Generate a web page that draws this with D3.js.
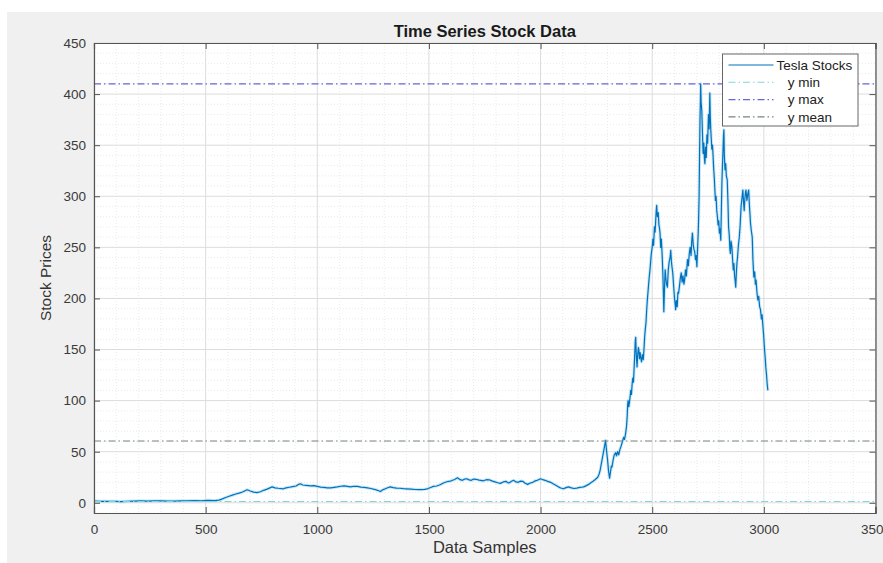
<!DOCTYPE html>
<html>
<head>
<meta charset="utf-8">
<script src="https://cdn.jsdelivr.net/npm/d3@7"></script>
<style>
  body { margin: 0; background: #ffffff; }
  svg { display: block; font-family: "Liberation Sans", Arial, Helvetica, sans-serif; }
</style>
</head>
<body>
<svg id="chart" width="883" height="563"></svg>
<script>
// Sample index of each observation and its closing price (same order, 10 per row)
const samples = [
  0, 30, 60, 90, 120, 150, 180, 210, 240, 270,
  300, 330, 360, 390, 420, 450, 480, 510, 540, 560,
  575, 590, 605, 620, 635, 650, 665, 686, 700, 715,
  730, 745, 760, 775, 790, 798, 810, 825, 848, 860,
  875, 890, 905, 915, 924, 935, 950, 970, 985, 1000,
  1015, 1030, 1045, 1060, 1075, 1090, 1105, 1120, 1135, 1148,
  1165, 1180, 1195, 1210, 1225, 1240, 1255, 1270, 1283, 1292,
  1305, 1318, 1327, 1340, 1355, 1370, 1385, 1400, 1420, 1440,
  1460, 1480, 1493, 1508, 1520, 1535, 1550, 1565, 1580, 1600,
  1615, 1628, 1640, 1650, 1660, 1670, 1680, 1690, 1700, 1710,
  1725, 1744, 1757, 1770, 1782, 1795, 1808, 1820, 1833, 1845,
  1852, 1860, 1870, 1879, 1890, 1900, 1910, 1920, 1931, 1942,
  1954, 1965, 1975, 1985, 1993, 2000, 2010, 2020, 2032, 2045,
  2058, 2070, 2080, 2090, 2103, 2114, 2125, 2138, 2150, 2162,
  2175, 2184, 2193, 2205, 2215, 2225, 2235, 2245, 2256, 2262,
  2267, 2272, 2277, 2282, 2287, 2291, 2295, 2300, 2304, 2309,
  2313, 2317, 2320, 2325, 2330, 2336, 2340, 2345, 2350, 2355,
  2360, 2364, 2368, 2372, 2376, 2381, 2385, 2388, 2390, 2392,
  2395, 2398, 2401, 2404, 2407, 2410, 2413, 2416, 2419, 2422,
  2424, 2426, 2428, 2430, 2432, 2435, 2438, 2440, 2443, 2446,
  2448, 2452, 2456, 2460, 2463, 2466, 2469, 2472, 2475, 2478,
  2481, 2484, 2487, 2490, 2493, 2496, 2500, 2503, 2506, 2510,
  2513, 2516, 2518, 2520, 2523, 2527, 2530, 2533, 2535, 2538,
  2541, 2545, 2548, 2550, 2552, 2555, 2558, 2561, 2564, 2568,
  2572, 2576, 2580, 2583, 2586, 2589, 2592, 2596, 2600, 2603,
  2605, 2608, 2612, 2615, 2618, 2622, 2626, 2630, 2634, 2638,
  2642, 2645, 2649, 2653, 2658, 2662, 2666, 2670, 2674, 2677,
  2680, 2684, 2687, 2690, 2694, 2697, 2700, 2703, 2706, 2708,
  2710, 2712, 2714, 2716, 2717, 2719, 2722, 2725, 2728, 2731,
  2734, 2736, 2739, 2742, 2745, 2748, 2752, 2755, 2758, 2760,
  2762, 2764, 2767, 2770, 2772, 2775, 2778, 2780, 2783, 2786,
  2789, 2792, 2795, 2798, 2801, 2804, 2807, 2810, 2812, 2814,
  2817, 2819, 2821, 2823, 2826, 2829, 2832, 2836, 2839, 2842,
  2845, 2848, 2850, 2853, 2857, 2860, 2863, 2866, 2869, 2872,
  2874, 2877, 2880, 2882, 2886, 2890, 2894, 2898, 2902, 2906,
  2909, 2912, 2915, 2918, 2920, 2924, 2928, 2932, 2935, 2938,
  2940, 2944, 2948, 2951, 2955, 2959, 2962, 2965, 2969, 2973,
  2977, 2981, 2985, 2989, 2992, 2995, 2999, 3003, 3006, 3009,
  3012, 3015, 3018
];
const prices = [
  1.6, 1.4, 1.3, 1.5, 1.2, 1.4, 1.7, 1.9, 1.7, 1.8,
  1.9, 1.7, 1.6, 1.8, 2.0, 2.1, 2.0, 2.3, 2.1, 2.6,
  3.8, 5.2, 6.4, 7.5, 8.6, 9.4, 10.6, 12.7, 11.5, 10.4,
  10, 10.8, 12.2, 13.4, 14.8, 15.6, 14.6, 14.2, 13.7, 14.6,
  15.2, 15.8, 16.4, 17.8, 18.6, 17.4, 17, 16.5, 16.8, 16,
  15.4, 15, 14.6, 14.5, 15, 15.5, 16.2, 16.5, 16, 15.6,
  16.2, 16, 15.4, 15, 14.6, 14, 13.2, 12.2, 11, 12.6,
  13.8, 15, 15.6, 14.8, 14.4, 14.2, 13.8, 13.6, 13.4, 13,
  12.8, 13.2, 13.7, 15, 16, 16.4, 17.6, 19.4, 20.6, 21.5,
  22.8, 24.4, 22.6, 22, 23.2, 23.5, 22.4, 22, 23.2, 23,
  22.2, 21.5, 22.6, 22.5, 21.4, 20.5, 19.6, 19, 20.4, 21,
  19.8, 19.5, 21, 22, 20.4, 20, 21.2, 21, 19.2, 18,
  19.4, 20, 21.4, 22, 22.8, 23.5, 22.6, 22, 21, 20,
  18.4, 17, 15.6, 14.5, 13.7, 14.8, 15.5, 14.6, 14, 14.4,
  15, 15.2, 15.6, 16.8, 18, 19.6, 21, 22.8, 25, 28,
  32, 38, 44, 50, 56, 61, 52, 42, 32, 24,
  30, 36, 35, 42, 47, 49, 46, 50, 47, 52,
  55, 58, 61, 64, 62, 68, 75, 85, 96, 100,
  94, 98, 104, 110, 106, 116, 122, 118, 132, 146,
  158, 162, 148, 140, 133, 145, 152, 150, 141, 147,
  143, 138, 145, 140, 150, 162, 170, 176, 188, 198,
  206, 214, 222, 228, 236, 244, 250, 258, 252, 270,
  265, 278, 286, 291, 280, 284, 272, 268, 264, 250,
  258, 240, 222, 205, 187, 210, 228, 220, 214, 211,
  228, 236, 240, 247, 236, 230, 225, 212, 200, 194,
  189, 198, 192, 206, 205, 212, 220, 225, 216, 222,
  214, 218, 228, 222, 238, 232, 244, 250, 242, 256,
  264, 252, 248, 246, 238, 242, 231, 248, 264, 280,
  300, 340, 375, 395, 410, 392, 384, 362, 342, 352,
  336, 332, 348, 338, 360, 352, 380, 366, 401, 378,
  366, 358, 346, 350, 342, 328, 318, 309, 296, 300,
  286, 280, 272, 276, 264, 268, 257, 290, 312, 326,
  344, 358, 365, 340, 326, 332, 320, 316, 296, 270,
  262, 248, 244, 256, 250, 238, 228, 234, 222, 216,
  211, 226, 236, 240, 252, 260, 272, 290, 298, 306,
  294, 286, 298, 304, 306, 296, 302, 306, 292, 282,
  274, 266, 260, 238, 221, 226, 214, 218, 206, 198.5,
  202, 192, 189, 180, 184, 175, 164, 150, 142, 132,
  125, 116, 110
];

const xTicks = [0, 500, 1000, 1500, 2000, 2500, 3000, 3500];
const yTicks = [0, 50, 100, 150, 200, 250, 300, 350, 400, 450];
const legendLabels = ["Tesla Stocks", "   y min", "   y max", "   y mean"];
const yMeanValue = 60.5;

const data = samples.map((s, i) => ({ x: s, y: prices[i] }));
const yMinValue = d3.min(prices);
const yMaxValue = d3.max(prices);

const svg = d3.select("#chart");
const W = 883, H = 563;
const plot = { left: 94, right: 875.5, top: 43, bottom: 513 };

// figure background
svg.append("rect").attr("x", 7).attr("y", 12).attr("width", W - 7).attr("height", H - 12)
  .attr("fill", "#f0f0f0");

const x = d3.scaleLinear().domain([0, 3500]).range([plot.left, plot.right]);
const y = d3.scaleLinear().domain([-10, 450]).range([plot.bottom, plot.top]);

// axes background
svg.append("rect").attr("x", plot.left).attr("y", plot.top)
  .attr("width", plot.right - plot.left).attr("height", plot.bottom - plot.top)
  .attr("fill", "#ffffff");

// minor grid
const xMinor = d3.range(100, 3500, 100).filter(v => v % 500 !== 0);
const yMinor = d3.range(-10, 450, 10).filter(v => v % 50 !== 0);
const grid = svg.append("g");
grid.selectAll(".xm").data(xMinor).join("line")
  .attr("x1", d => x(d)).attr("x2", d => x(d))
  .attr("y1", plot.top).attr("y2", plot.bottom)
  .attr("stroke", "#e4e4e4").attr("stroke-width", 0.8).attr("stroke-dasharray", "1,2");
grid.selectAll(".ym").data(yMinor).join("line")
  .attr("x1", plot.left).attr("x2", plot.right)
  .attr("y1", d => y(d)).attr("y2", d => y(d))
  .attr("stroke", "#e4e4e4").attr("stroke-width", 0.8).attr("stroke-dasharray", "1,2");
// major grid
grid.selectAll(".xM").data(xTicks).join("line")
  .attr("x1", d => x(d)).attr("x2", d => x(d))
  .attr("y1", plot.top).attr("y2", plot.bottom)
  .attr("stroke", "#dcdcdc").attr("stroke-width", 1);
grid.selectAll(".yM").data(yTicks).join("line")
  .attr("x1", plot.left).attr("x2", plot.right)
  .attr("y1", d => y(d)).attr("y2", d => y(d))
  .attr("stroke", "#dcdcdc").attr("stroke-width", 1);

// clip region for plotted lines
svg.append("clipPath").attr("id", "clip").append("rect")
  .attr("x", plot.left).attr("y", plot.top)
  .attr("width", plot.right - plot.left).attr("height", plot.bottom - plot.top);

const lines = svg.append("g").attr("clip-path", "url(#clip)");
const lineGen = d3.line().x(d => x(d.x)).y(d => y(d.y));

// stock price series: soft halo beneath the main stroke
lines.append("path").datum(data)
  .attr("d", lineGen)
  .attr("fill", "none")
  .attr("stroke", "#aad8f2")
  .attr("stroke-width", 3.2)
  .attr("stroke-opacity", 0.6)
  .attr("stroke-linejoin", "round");
lines.append("path").datum(data)
  .attr("d", lineGen)
  .attr("fill", "none")
  .attr("stroke", "#0072BD")
  .attr("stroke-width", 1.2)
  .attr("stroke-linejoin", "round");

// reference lines: min, max, mean
const refLines = [
  { value: yMinValue, color: "#7fd6dc" },
  { value: yMaxValue, color: "#6666d6" },
  { value: yMeanValue, color: "#74857a" }
];
const dashDot = "7,3,1.5,3";
lines.selectAll(".ref").data(refLines).join("line")
  .attr("x1", plot.left).attr("x2", plot.right)
  .attr("y1", d => y(d.value)).attr("y2", d => y(d.value))
  .attr("stroke", d => d.color).attr("stroke-width", 1.1)
  .attr("stroke-dasharray", dashDot);

// axes (box with inward ticks on all sides)
const axisColor = "#555555";
const tickLen = 6;
const bottomAxis = d3.axisBottom(x).tickValues(xTicks).tickSize(-tickLen).tickPadding(11)
  .tickFormat(d3.format("d"));
const leftAxis = d3.axisLeft(y).tickValues(yTicks).tickSize(-tickLen).tickPadding(8)
  .tickFormat(d3.format("d"));
const topAxis = d3.axisTop(x).tickValues(xTicks).tickSize(-tickLen).tickFormat("");
const rightAxis = d3.axisRight(y).tickValues(yTicks).tickSize(-tickLen).tickFormat("");

function styleAxis(g) {
  g.select(".domain").attr("stroke", axisColor).attr("stroke-width", 1.2);
  g.selectAll(".tick line").attr("stroke", axisColor);
  g.selectAll(".tick text").attr("fill", "#3a3a3a")
    .style("font-size", "13.5px").style("font-family", "'Liberation Sans', Arial, sans-serif");
}
svg.append("g").attr("transform", `translate(0,${plot.bottom})`).call(bottomAxis).call(styleAxis);
svg.append("g").attr("transform", `translate(${plot.left},0)`).call(leftAxis).call(styleAxis);
svg.append("g").attr("transform", `translate(0,${plot.top})`).call(topAxis).call(styleAxis);
svg.append("g").attr("transform", `translate(${plot.right},0)`).call(rightAxis).call(styleAxis);

// title and axis labels
svg.append("text").attr("x", (plot.left + plot.right) / 2).attr("y", 37)
  .attr("text-anchor", "middle").attr("font-weight", "bold").attr("font-size", 16.5)
  .attr("fill", "#1a1a1a").text("Time Series Stock Data");
svg.append("text").attr("x", (plot.left + plot.right) / 2).attr("y", 553)
  .attr("text-anchor", "middle").attr("font-size", 16.5)
  .attr("fill", "#333333").text("Data Samples");
svg.append("text")
  .attr("transform", `translate(51,${(plot.top + plot.bottom) / 2}) rotate(-90)`)
  .attr("text-anchor", "middle").attr("font-size", 15.5)
  .attr("fill", "#333333").text("Stock Prices");

// legend
const legend = svg.append("g").attr("transform", "translate(722.5,54)");
legend.append("rect").attr("width", 135.5).attr("height", 72)
  .attr("fill", "#ffffff").attr("stroke", "#666666").attr("stroke-width", 1);
const legendItems = [
  { label: legendLabels[0], color: "#0072BD", dash: null },
  { label: legendLabels[1], color: refLines[0].color, dash: dashDot },
  { label: legendLabels[2], color: refLines[1].color, dash: dashDot },
  { label: legendLabels[3], color: refLines[2].color, dash: dashDot }
];
const row = legend.selectAll(".item").data(legendItems).join("g")
  .attr("transform", (d, i) => `translate(0,${11 + i * 17.3})`);
row.append("line").attr("x1", 6).attr("x2", 51).attr("y1", 0).attr("y2", 0)
  .attr("stroke", d => d.color).attr("stroke-width", 1.1)
  .attr("stroke-dasharray", d => d.dash);
row.append("text").attr("x", 54).attr("y", 4.8)
  .attr("font-size", 13.5).attr("fill", "#222222")
  .style("white-space", "pre").attr("xml:space", "preserve")
  .text(d => d.label);
</script>
</body>
</html>
